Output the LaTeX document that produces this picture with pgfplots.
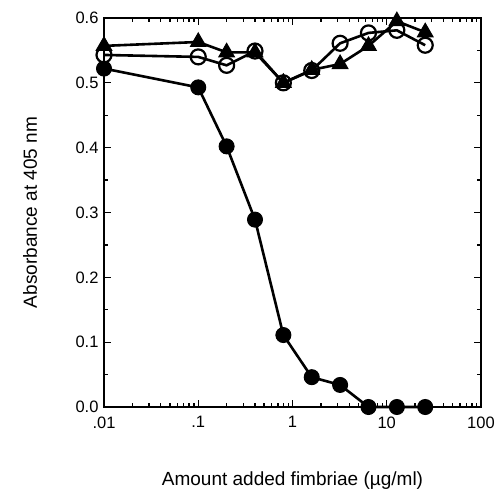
\documentclass[border=0pt]{standalone}
\usepackage{fontspec}
\setmainfont{Liberation Sans}
\usepackage{pgfplots}
\pgfplotsset{compat=1.18}
\begin{document}
\begin{tikzpicture}[x=1pt,y=1pt]
\path[use as bounding box] (-104,-86) rectangle (393,407);
\begin{axis}[
  at={(0,0)}, anchor=south west,
  scale only axis, width=377pt, height=389pt,
  xmode=log, xmin=0.01, xmax=100, ymin=0, ymax=0.6,
  axis line style={line width=2pt},
  xtick={0.01,0.1,1,10,100}, xticklabels={.01,.1,1,10,100},
  ytick={0,0.1,0.2,0.3,0.4,0.5,0.6},
  yticklabels={0.0,0.1,0.2,0.3,0.4,0.5,0.6},
  minor ytick={0.05,0.15,0.25,0.35,0.45,0.55},
  tick align=inside, tick pos=both,
  major tick length=7pt, minor tick length=4pt,
  every tick/.style={black, line width=1.3pt},
  ticklabel style={font=\fontsize{16.5}{19}\selectfont},
  xticklabel style={yshift=-6pt},
  yticklabel style={xshift=-2pt},
  label style={font=\fontsize{19}{22}\selectfont},
  xlabel={Amount added fimbriae (µg/ml)},
  ylabel={Absorbance at 405 nm},
  xlabel style={at={(axis description cs:0.5,-0.19)}, anchor=center},
  ylabel style={at={(axis description cs:-0.196,0.5)}, anchor=center},
  clip=false,
]
\addplot[black, line width=2.6pt, mark=*, mark size=7.5pt, mark options={fill=black, line width=1pt}]
coordinates {(0.01,0.522) (0.1,0.493) (0.2,0.402) (0.4,0.289) (0.8,0.111) (1.6,0.046) (3.2,0.034) (6.4,0) (12.8,0) (25.6,0)};
\addplot[black, line width=2.6pt, mark=triangle*, mark size=9pt, mark options={fill=black, line width=1pt}]
coordinates {(0.01,0.557) (0.1,0.563) (0.2,0.547) (0.4,0.547) (0.8,0.50) (1.6,0.52) (3.2,0.529) (6.4,0.557) (12.8,0.595) (25.6,0.578)};
\addplot[black, line width=2.6pt, mark=o, mark size=7.5pt, mark options={fill=white, line width=2.2pt}]
coordinates {(0.01,0.543) (0.1,0.540) (0.2,0.527) (0.4,0.549) (0.8,0.50) (1.6,0.519) (3.2,0.561) (6.4,0.577) (12.8,0.581) (25.6,0.558)};
\end{axis}
\end{tikzpicture}
\end{document}
